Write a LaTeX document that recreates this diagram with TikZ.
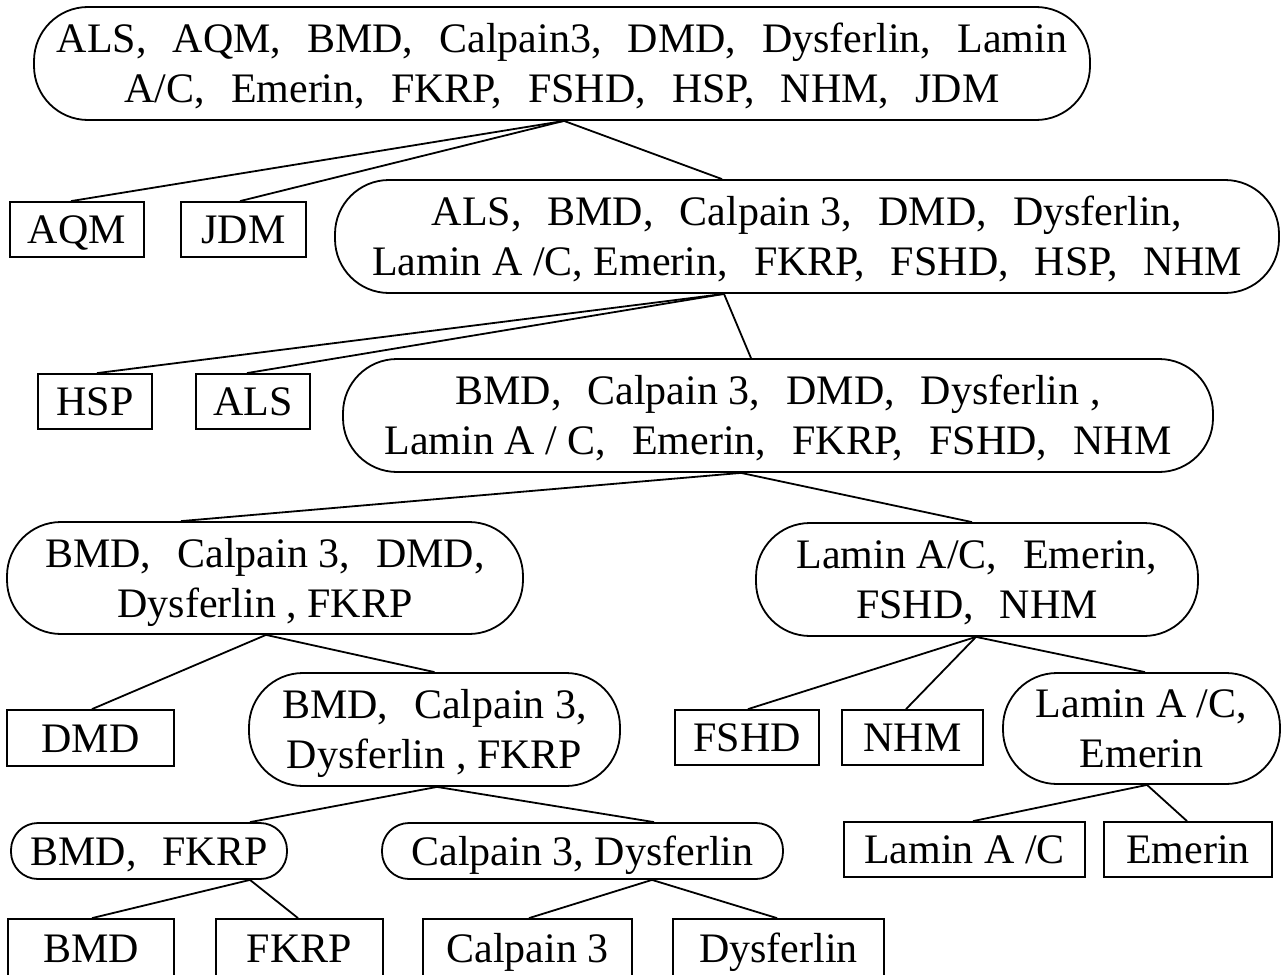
\documentclass[tikz,border=0pt]{standalone}
\usepackage{fontspec}
\setmainfont{Liberation Serif}
\newcommand{\csep}{,\hspace{0.62em}}
\newcommand{\Tx}[1]{\rule{0pt}{28pt}\smash{#1}}
\tikzset{
  box/.style={draw, line width=1.8pt, rectangle, inner sep=0pt, align=center,
    font=\fontsize{42}{50}\selectfont},
  rbox/.style={box, rounded corners=54pt},
  rsmall/.style={box, rounded corners=27pt},
  conn/.style={line width=1.8pt},
}
\begin{document}
\begin{tikzpicture}[x=1pt, y=-1pt]
\useasboundingbox (0,0) rectangle (1281,974);
% level 0
\node[rbox, minimum width=1056pt, minimum height=113pt] (n1) at (562,63.5)
  {\Tx{ALS\csep AQM\csep BMD\csep Calpain3\csep DMD\csep Dysferlin\csep Lamin}\\
   \Tx{A/C\csep Emerin\csep FKRP\csep FSHD\csep HSP\csep NHM\csep JDM}};
% level 1
\node[box, minimum width=134pt, minimum height=55pt] (aqm) at (77,229.5) {\Tx{AQM}};
\node[box, minimum width=125pt, minimum height=55pt] (jdm) at (243.5,229.5) {\Tx{JDM}};
\node[rbox, minimum width=944pt, minimum height=113pt] (n2) at (807,236.5)
  {\Tx{ALS\csep BMD\csep Calpain 3\csep DMD\csep Dysferlin,}\\
   \Tx{Lamin A /C, Emerin\csep FKRP\csep FSHD\csep HSP\csep NHM}};
% level 2
\node[box, minimum width=114pt, minimum height=55pt] (hsp) at (95,401.5) {\Tx{HSP}};
\node[box, minimum width=114pt, minimum height=55pt] (als) at (253,401.5) {\Tx{ALS}};
\node[rbox, minimum width=870pt, minimum height=113pt] (n3) at (778,415.5)
  {\Tx{BMD\csep Calpain 3\csep DMD\csep Dysferlin ,}\\
   \Tx{Lamin A / C\csep Emerin\csep FKRP\csep FSHD\csep NHM}};
% level 3
\node[rbox, minimum width=516pt, minimum height=112pt] (n4) at (265,578)
  {\Tx{BMD\csep Calpain 3\csep DMD,}\\
   \Tx{Dysferlin , FKRP}};
\node[rbox, minimum width=442pt, minimum height=113pt] (n5) at (977,579.5)
  {\Tx{Lamin A/C\csep Emerin,}\\
   \Tx{FSHD\csep NHM}};
% level 4
\node[box, minimum width=167pt, minimum height=56pt] (dmd) at (90.5,738) {\Tx{DMD}};
\node[rbox, minimum width=371pt, minimum height=113pt] (n6) at (434.5,729.5)
  {\Tx{BMD\csep Calpain 3,}\\
   \Tx{Dysferlin , FKRP}};
\node[box, minimum width=144pt, minimum height=55pt] (fshd) at (747,737.5) {\Tx{FSHD}};
\node[box, minimum width=141pt, minimum height=55pt] (nhm) at (912.5,737.5) {\Tx{NHM}};
\node[rbox, minimum width=277pt, minimum height=111pt] (n7) at (1141.5,728.5)
  {\Tx{Lamin A /C,}\\
   \Tx{Emerin}};
% level 5
\node[rsmall, minimum width=276pt, minimum height=56pt] (n8) at (149,851) {\Tx{BMD\csep FKRP}};
\node[rsmall, minimum width=401pt, minimum height=56pt] (n9) at (582.5,851) {\Tx{Calpain 3, Dysferlin}};
\node[box, minimum width=241pt, minimum height=55pt] (lam) at (964.5,849.5) {\Tx{Lamin A /C}};
\node[box, minimum width=168pt, minimum height=55pt] (eme) at (1188,849.5) {\Tx{Emerin}};
% level 6
\node[box, minimum width=166pt, minimum height=59pt] (bmd) at (91,948.5) {\Tx{BMD}};
\node[box, minimum width=167pt, minimum height=59pt] (fkrp) at (299.5,948.5) {\Tx{FKRP}};
\node[box, minimum width=209pt, minimum height=59pt] (cal) at (527.5,948.5) {\Tx{Calpain 3}};
\node[box, minimum width=211pt, minimum height=59pt] (dys) at (778.5,948.5) {\Tx{Dysferlin}};
% connectors
\draw[conn] ([xshift=2pt]n1.south) -- ([xshift=-6pt]aqm.north);
\draw[conn] ([xshift=2pt]n1.south) -- ([xshift=-3.5pt]jdm.north);
\draw[conn] ([xshift=2pt]n1.south) -- ([xshift=-85pt]n2.north);
\draw[conn] ([xshift=-83pt]n2.south) -- ([xshift=2pt]hsp.north);
\draw[conn] ([xshift=-83pt]n2.south) -- ([xshift=-6pt]als.north);
\draw[conn] ([xshift=-83pt]n2.south) -- ([xshift=-27pt]n3.north);
\draw[conn] ([xshift=-37pt]n3.south) -- ([xshift=-84pt]n4.north);
\draw[conn] ([xshift=-37pt]n3.south) -- ([xshift=-5pt]n5.north);
\draw[conn] ([xshift=1pt]n4.south) -- ([xshift=1.5pt]dmd.north);
\draw[conn] ([xshift=1pt]n4.south) -- (n6.north);
\draw[conn] ([xshift=-1pt]n5.south) -- ([xshift=1pt]fshd.north);
\draw[conn] ([xshift=-1pt]n5.south) -- ([xshift=-6.5pt]nhm.north);
\draw[conn] ([xshift=-1pt]n5.south) -- ([xshift=3.5pt]n7.north);
\draw[conn] ([xshift=2.5pt]n6.south) -- ([xshift=101pt]n8.north);
\draw[conn] ([xshift=2.5pt]n6.south) -- ([xshift=71.5pt]n9.north);
\draw[conn] ([xshift=5.5pt]n7.south) -- ([xshift=8.5pt]lam.north);
\draw[conn] ([xshift=5.5pt]n7.south) -- ([xshift=-1pt]eme.north);
\draw[conn] ([xshift=101pt]n8.south) -- ([xshift=1pt]bmd.north);
\draw[conn] ([xshift=101pt]n8.south) -- ([xshift=-1.5pt]fkrp.north);
\draw[conn] ([xshift=69.5pt]n9.south) -- ([xshift=1.5pt]cal.north);
\draw[conn] ([xshift=69.5pt]n9.south) -- ([xshift=-1.5pt]dys.north);
\end{tikzpicture}
\end{document}
